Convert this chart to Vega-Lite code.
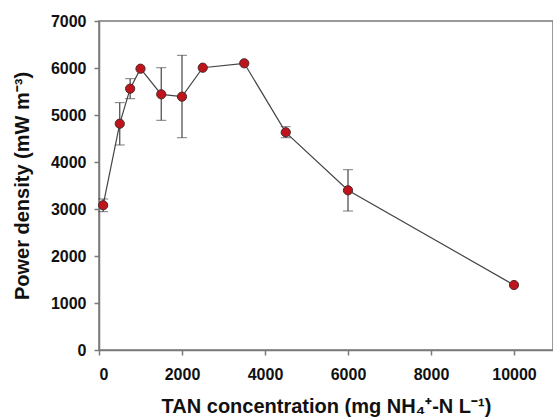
{
  "$schema": "https://vega.github.io/schema/vega-lite/v6.json",
  "autosize": "none",
  "padding": {"left": 99, "top": 21, "right": 0, "bottom": 68},
  "width": 454,
  "height": 329,
  "background": "white",
  "config": {
    "view": {"stroke": "#7a7a7a", "strokeWidth": 1.5},
    "axis": {
      "domainColor": "#7a7a7a",
      "domainWidth": 1.5,
      "tickColor": "#7a7a7a",
      "tickWidth": 1.5,
      "tickSize": 5,
      "grid": false,
      "format": "d",
      "labelFont": "Liberation Sans",
      "labelFontSize": 16,
      "labelFontWeight": "bold",
      "labelColor": "#111",
      "titleFont": "Liberation Sans",
      "titleFontSize": 20,
      "titleFontWeight": "bold",
      "titleColor": "#111"
    }
  },
  "data": {
    "values": [
      {"tan": 100, "pd": 3080, "lo": 2943, "hi": 3213},
      {"tan": 500, "pd": 4815, "lo": 4362, "hi": 5263},
      {"tan": 750, "pd": 5560, "lo": 5347, "hi": 5773},
      {"tan": 1000, "pd": 5985, "lo": null, "hi": null},
      {"tan": 1500, "pd": 5440, "lo": 4887, "hi": 6006},
      {"tan": 2000, "pd": 5390, "lo": 4517, "hi": 6270},
      {"tan": 2500, "pd": 6006, "lo": null, "hi": null},
      {"tan": 3500, "pd": 6100, "lo": null, "hi": null},
      {"tan": 4500, "pd": 4631, "lo": 4517, "hi": 4751},
      {"tan": 6000, "pd": 3398, "lo": 2957, "hi": 3836},
      {"tan": 10000, "pd": 1383, "lo": null, "hi": null}
    ]
  },
  "encoding": {
    "x": {
      "field": "tan",
      "type": "quantitative",
      "scale": {"domain": [0, 10940], "nice": false},
      "axis": {
        "title": "TAN concentration (mg NH₄⁺-N L⁻¹)",
        "values": [0, 2000, 4000, 6000, 8000, 10000],
        "labelPadding": 11,
        "titlePadding": 14
      }
    }
  },
  "layer": [
    {
      "mark": {"type": "line", "color": "#444", "strokeWidth": 1.2},
      "encoding": {
        "y": {
          "field": "pd",
          "type": "quantitative",
          "title": "Power density (mW m⁻³)",
          "scale": {"domain": [0, 7000], "nice": false},
          "axis": {
            "values": [0, 1000, 2000, 3000, 4000, 5000, 6000, 7000],
            "labelPadding": 8,
            "titlePadding": 18
          }
        }
      }
    },
    {
      "transform": [{"filter": "datum.lo != null"}],
      "mark": {"type": "errorbar", "ticks": {"size": 10, "color": "#444", "strokeWidth": 1.2}, "rule": {"color": "#444", "strokeWidth": 1.2}},
      "encoding": {
        "y": {"field": "lo", "type": "quantitative", "title": "Power density (mW m⁻³)"},
        "y2": {"field": "hi"}
      }
    },
    {
      "mark": {"type": "point", "filled": true, "size": 85, "fill": "#c0141c", "stroke": "#4a2a2a", "strokeWidth": 1, "opacity": 1},
      "encoding": {
        "y": {"field": "pd", "type": "quantitative", "title": "Power density (mW m⁻³)"}
      }
    }
  ]
}
